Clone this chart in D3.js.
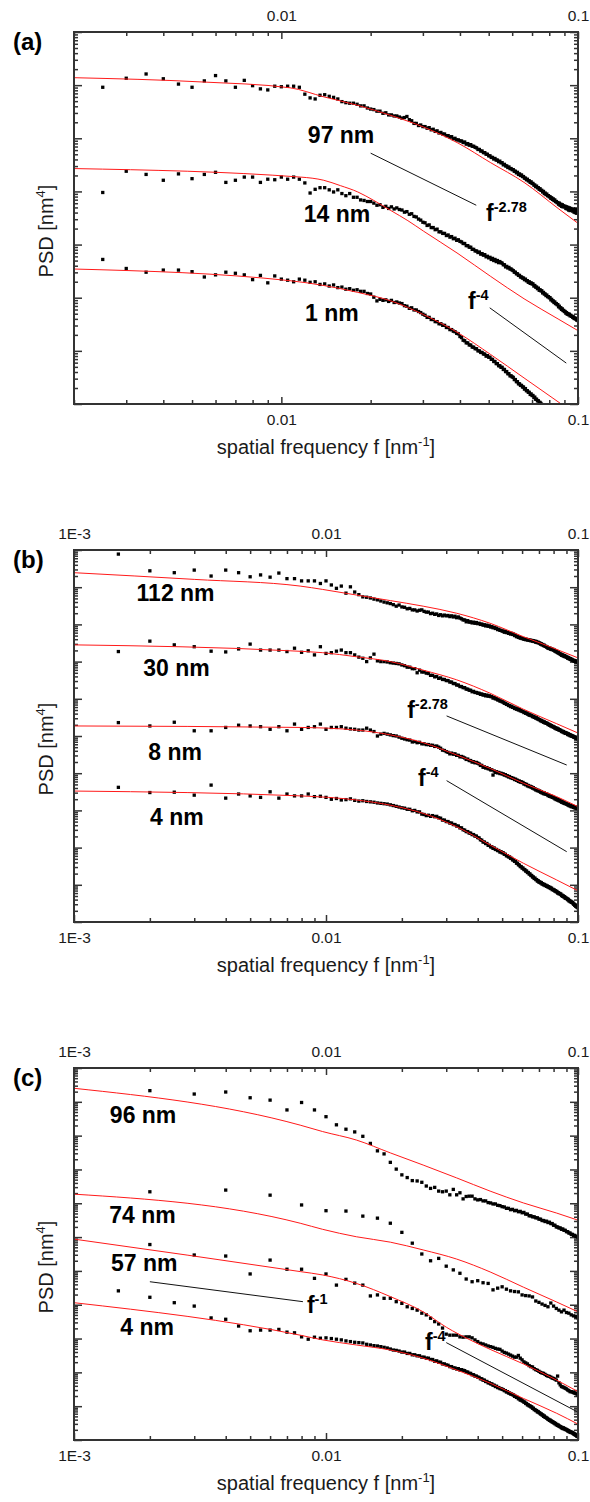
<!DOCTYPE html>
<html>
<head>
<meta charset="utf-8">
<script src="https://cdn.jsdelivr.net/npm/d3@7"></script>
<style>
  body { margin: 0; background: #fff; }
  text { font-family: "Liberation Sans", Arial, sans-serif; }
</style>
</head>
<body>
<div id="chart"></div>
<script>
// values are log10(PSD) (y axis carries no numbers)
// every series sits on a regular frequency grid: first f and step
const a97Start = 0.0025, a97Step = 0.0005
const a97 = [5.96,6.13,6.21,6.12,6.02,5.96,6.08,6.18,6.08,5.96,6.09,5.99,5.93,5.91,5.98,5.97,5.98,5.98,5.96,
  5.83,5.76,5.74,5.81,5.82,5.79,5.77,5.74,5.69,5.67,
  5.66,5.66,5.64,5.61,5.61,5.57,5.55,
  5.54,5.51,5.51,5.47,5.48,5.44,5.44,5.42,5.42,5.40,
  5.38,5.39,5.41,5.35,5.33,5.28,5.28,5.24,5.25,5.22,
  5.22,5.19,5.20,5.16,5.17,5.13,5.14,5.10,5.11,5.08,
  5.08,5.05,5.05,5.02,5.03,4.99,5.00,4.97,4.97,4.95,
  4.95,4.92,4.93,4.89,4.90,4.87,4.88,4.85,4.85,4.83,
  4.82,4.79,4.79,4.76,4.76,4.73,4.73,4.70,4.70,4.67,
  4.67,4.64,4.64,4.61,4.62,4.59,4.59,4.56,4.57,4.54,
  4.54,4.50,4.51,4.48,4.48,4.45,4.46,4.43,4.43,4.41,
  4.41,4.38,4.38,4.35,4.36,4.32,4.33,4.30,4.31,4.28,
  4.28,4.25,4.25,4.22,4.23,4.20,4.20,4.17,4.18,4.15,
  4.15,4.12,4.12,4.09,4.10,4.07,4.07,4.04,4.05,4.02,
  4.02,3.99,4.00,3.96,3.97,3.94,3.95,3.92,3.92,3.90,
  3.90,3.87,3.88,3.85,3.86,3.83,3.84,3.81,3.81,3.79,
  3.79,3.76,3.78,3.74,3.76,3.72,3.75,3.71,3.73,3.71,
  3.72,3.68,3.71,3.67,3.70,3.65,3.69,3.64,3.68,3.66,
  3.66,3.63,3.67,3.61,3.65,3.60,3.66,3.59,3.63,3.60]

const a14Start = 0.0025, a14Step = 0.0005
const a14 = [3.98,4.38,4.32,4.21,4.33,4.24,4.32,4.36,4.17,4.21,4.27,4.27,4.17,4.23,4.22,4.27,4.23,4.27,4.23,
  4.16,3.97,4.04,4.07,4.07,4.03,3.99,4.03,3.96,3.92,
  3.96,3.89,3.89,3.84,3.83,3.81,3.81,
  3.78,3.74,3.75,3.70,3.72,3.68,3.71,3.67,3.69,3.66,
  3.65,3.61,3.62,3.57,3.58,3.53,3.52,3.48,3.46,3.42,
  3.41,3.36,3.37,3.32,3.32,3.28,3.29,3.24,3.24,3.21,
  3.21,3.17,3.18,3.14,3.15,3.11,3.12,3.08,3.09,3.06,
  3.05,3.02,3.02,2.98,2.98,2.95,2.95,2.91,2.91,2.88,
  2.88,2.85,2.86,2.82,2.83,2.80,2.81,2.77,2.78,2.75,
  2.76,2.72,2.74,2.70,2.72,2.68,2.70,2.66,2.68,2.66,
  2.65,2.62,2.62,2.58,2.59,2.56,2.57,2.54,2.54,2.52,
  2.51,2.48,2.48,2.45,2.45,2.42,2.42,2.39,2.39,2.37,
  2.37,2.34,2.35,2.32,2.32,2.29,2.30,2.27,2.28,2.26,
  2.26,2.22,2.23,2.20,2.20,2.17,2.18,2.14,2.15,2.13,
  2.13,2.09,2.10,2.07,2.07,2.04,2.05,2.02,2.02,2.00,
  2.00,1.96,1.97,1.94,1.94,1.91,1.92,1.89,1.89,1.87,
  1.87,1.83,1.84,1.81,1.81,1.78,1.79,1.76,1.76,1.74,
  1.74,1.71,1.72,1.69,1.70,1.68,1.69,1.66,1.67,1.65,
  1.65,1.63,1.64,1.61,1.62,1.60,1.61,1.58,1.59,1.57]

const a1Start = 0.0025, a1Step = 0.0005
const a1 = [2.72,2.55,2.48,2.52,2.52,2.49,2.39,2.43,2.48,2.46,2.43,2.34,2.42,2.28,2.41,2.35,2.33,2.30,2.35,
  2.33,2.29,2.30,2.25,2.26,2.22,2.24,2.19,2.20,2.16,
  2.17,2.14,2.15,2.12,2.12,2.08,2.07,
  2.01,1.94,1.97,1.95,1.96,1.93,1.95,1.91,1.92,1.90,
  1.89,1.85,1.84,1.80,1.81,1.77,1.77,1.74,1.72,1.69,
  1.67,1.63,1.63,1.59,1.59,1.55,1.55,1.51,1.51,1.48,
  1.48,1.44,1.44,1.40,1.40,1.37,1.36,1.33,1.32,1.27,
  1.25,1.20,1.19,1.15,1.15,1.11,1.11,1.07,1.07,1.04,
  1.04,1.00,1.00,0.97,0.97,0.94,0.94,0.90,0.91,0.88,
  0.88,0.84,0.84,0.80,0.80,0.76,0.76,0.72,0.72,0.69,
  0.69,0.65,0.65,0.61,0.61,0.57,0.57,0.53,0.53,0.51,
  0.50,0.46,0.46,0.42,0.42,0.38,0.38,0.35,0.35,0.32,
  0.32,0.28,0.29,0.25,0.25,0.22,0.22,0.18,0.19,0.16,
  0.16,0.12,0.13,0.09,0.09,0.06,0.06,0.03,0.03,0.01,-0.01]

const b112Start = 0.0015, b112Step = 0.0005
const b112 = [9.89,9.44,9.39,9.46,9.30,9.46,9.39,9.28,9.33,9.27,9.38,9.23,9.23,
  9.17,9.17,9.17,9.10,9.17,9.06,8.97,9.03,8.84,9.01,8.87,8.80,8.74,8.73,8.71,8.68,8.66,8.63,8.60,8.58,8.56,8.53,8.49,8.52,8.47,
  8.46,8.42,8.43,8.39,8.39,8.36,8.38,8.39,8.35,8.33,
  8.33,8.29,8.30,8.27,8.28,8.24,8.26,8.23,8.25,8.23,
  8.24,8.21,8.23,8.20,8.22,8.18,8.20,8.17,8.15,8.12,
  8.12,8.07,8.10,8.06,8.07,8.04,8.06,8.03,8.05,8.02,
  8.03,8.00,8.01,7.98,7.99,7.96,7.98,7.95,7.96,7.93,
  7.94,7.91,7.92,7.89,7.90,7.86,7.87,7.84,7.84,7.82,
  7.82,7.79,7.81,7.78,7.79,7.76,7.77,7.74,7.76,7.73,
  7.74,7.70,7.71,7.67,7.68,7.65,7.66,7.63,7.64,7.62,
  7.62,7.60,7.61,7.59,7.60,7.58,7.59,7.57,7.58,7.56,
  7.57,7.55,7.56,7.54,7.55,7.52,7.54,7.51,7.52,7.50,
  7.50,7.47,7.48,7.45,7.46,7.43,7.44,7.41,7.41,7.39,
  7.39,7.36,7.37,7.35,7.36,7.33,7.34,7.32,7.33,7.31,
  7.31,7.28,7.29,7.26,7.27,7.24,7.25,7.22,7.22,7.20,
  7.20,7.17,7.19,7.16,7.17,7.14,7.16,7.13,7.14,7.12,
  7.12,7.09,7.11,7.08,7.09,7.06,7.08,7.05,7.06,7.04,
  7.04,7.02,7.03,7.01,7.02,7.00,7.01,6.99,7.00,6.99]

const b30Start = 0.0015, b30Step = 0.0005
const b30 = [7.27,7.55,7.45,7.40,7.28,7.26,7.34,7.47,7.31,7.31,7.31,7.27,7.36,
  7.25,7.29,7.18,7.40,7.22,7.24,7.28,7.31,7.24,7.24,7.18,7.12,7.09,7.00,7.10,7.20,7.02,7.00,7.00,6.99,6.97,6.96,6.95,6.94,6.91,
  6.89,6.85,6.85,6.81,6.81,6.70,6.77,6.72,6.72,6.69,
  6.68,6.63,6.63,6.59,6.60,6.55,6.56,6.52,6.52,6.49,
  6.49,6.45,6.45,6.41,6.41,6.37,6.37,6.33,6.33,6.30,
  6.30,6.26,6.26,6.23,6.23,6.19,6.20,6.17,6.17,6.15,
  6.15,6.12,6.13,6.10,6.11,6.08,6.10,6.07,6.08,6.06,
  6.06,6.02,6.03,6.00,6.00,5.97,5.97,5.94,5.94,5.92,
  5.91,5.88,5.88,5.85,5.85,5.82,5.82,5.79,5.80,5.77,
  5.77,5.74,5.75,5.72,5.73,5.70,5.71,5.68,5.68,5.66,
  5.66,5.63,5.64,5.61,5.62,5.59,5.59,5.56,5.57,5.55,
  5.55,5.52,5.53,5.50,5.51,5.48,5.49,5.46,5.46,5.44,
  5.44,5.41,5.42,5.39,5.40,5.37,5.38,5.35,5.36,5.34,
  5.34,5.31,5.32,5.29,5.30,5.27,5.28,5.25,5.26,5.24,
  5.24,5.21,5.22,5.19,5.21,5.18,5.19,5.16,5.17,5.15,
  5.15,5.12,5.13,5.11,5.12,5.09,5.10,5.07,5.09,5.07,
  5.07,5.04,5.06,5.03,5.04,5.01,5.03,5.00,5.01,4.99,
  5.00,4.97,4.98,4.96,4.97,4.94,4.95,4.93,4.94,4.92]

const b8Start = 0.0015, b8Step = 0.0005
const b8 = [5.36,5.27,5.37,5.14,5.14,5.23,5.29,5.27,5.25,5.18,5.25,5.14,5.32,
  5.18,5.23,5.25,5.32,5.18,5.23,5.23,5.25,5.21,5.19,5.18,5.16,5.16,5.21,5.16,5.12,5.00,5.05,5.07,5.05,5.03,5.01,5.00,4.97,4.94,
  4.92,4.90,4.89,4.84,4.85,4.82,4.83,4.79,4.79,4.77,
  4.77,4.75,4.75,4.72,4.73,4.70,4.67,4.62,4.61,4.58,
  4.56,4.52,4.54,4.51,4.52,4.48,4.48,4.44,4.45,4.43,
  4.41,4.37,4.38,4.34,4.34,4.30,4.31,4.28,4.29,4.27,
  4.25,4.21,4.21,4.16,4.17,4.14,4.15,4.12,4.12,4.09,
  4.09,3.95,4.06,4.02,4.04,4.01,4.02,3.99,4.00,3.98,
  3.98,3.95,3.96,3.93,3.93,3.90,3.91,3.88,3.88,3.86,
  3.86,3.83,3.84,3.81,3.81,3.78,3.79,3.76,3.77,3.75,
  3.75,3.71,3.72,3.69,3.70,3.66,3.67,3.64,3.65,3.63,
  3.63,3.60,3.61,3.58,3.58,3.55,3.56,3.53,3.54,3.52,
  3.52,3.49,3.50,3.47,3.48,3.45,3.47,3.44,3.45,3.43,
  3.43,3.40,3.41,3.38,3.39,3.37,3.38,3.35,3.36,3.34,
  3.34,3.31,3.32,3.29,3.31,3.28,3.29,3.26,3.27,3.25,
  3.25,3.22,3.24,3.21,3.22,3.19,3.20,3.18,3.19,3.17,
  3.17,3.15,3.16,3.13,3.14,3.12,3.13,3.10,3.12,3.10,
  3.11,3.08,3.10,3.07,3.09,3.06,3.08,3.05,3.07,3.05]

const b4Start = 0.0015, b4Step = 0.0005
const b4 = [3.62,3.48,3.49,3.41,3.68,3.33,3.44,3.39,3.35,3.50,3.33,3.44,3.39,
  3.39,3.44,3.37,3.38,3.35,3.30,3.32,3.28,3.29,3.31,3.27,3.25,3.26,3.24,3.23,3.22,3.20,3.19,3.18,3.17,3.15,3.13,3.11,3.09,3.07,
  3.06,3.03,3.03,2.99,3.00,2.96,2.96,2.90,2.89,2.86,
  2.87,2.84,2.86,2.83,2.84,2.80,2.79,2.74,2.74,2.70,
  2.70,2.66,2.66,2.62,2.62,2.58,2.58,2.53,2.53,2.48,
  2.47,2.43,2.43,2.39,2.39,2.35,2.35,2.31,2.31,2.27,
  2.26,2.21,2.20,2.15,2.15,2.11,2.11,2.06,2.06,2.02,
  2.02,1.98,1.99,1.95,1.95,1.92,1.92,1.88,1.89,1.86,
  1.86,1.82,1.82,1.78,1.78,1.75,1.75,1.71,1.71,1.67,
  1.67,1.63,1.63,1.58,1.58,1.54,1.53,1.49,1.49,1.45,
  1.45,1.41,1.41,1.37,1.37,1.33,1.33,1.29,1.29,1.25,
  1.25,1.21,1.21,1.17,1.18,1.14,1.14,1.10,1.11,1.07,
  1.08,1.05,1.06,1.02,1.03,1.00,1.01,0.98,0.99,0.96,
  0.97,0.94,0.95,0.92,0.93,0.90,0.91,0.87,0.88,0.86,
  0.86,0.83,0.84,0.81,0.82,0.78,0.79,0.76,0.77,0.75,
  0.75,0.71,0.72,0.69,0.70,0.67,0.68,0.64,0.65,0.63,
  0.63,0.60,0.61,0.57,0.58,0.55,0.56,0.53,0.54,0.52,
  0.51,0.48,0.48,0.45,0.46,0.42,0.43,0.40,0.41,0.38]

const c96Start = 0.002, c96Step = 0.001
const c96 = [10.33,10.23,10.29,10.12,10.05,9.76,9.98,9.76,9.56,9.32,9.19,9.11,8.98,8.77,8.55,8.46,8.21,8.01,7.84,
  7.76,7.67,7.66,7.62,7.51,7.44,7.47,7.36,7.34,7.36,7.25,7.41,7.25,7.31,7.13,7.20,7.21,7.21,7.13,7.10,
  7.11,7.07,7.07,7.02,7.01,6.98,6.98,6.94,6.93,6.90,
  6.89,6.85,6.85,6.81,6.82,6.78,6.79,6.75,6.76,6.72,
  6.73,6.68,6.68,6.63,6.63,6.60,6.60,6.57,6.57,6.53,
  6.53,6.49,6.49,6.46,6.47,6.43,6.44,6.40,6.40,6.35,
  6.35,6.30,6.30,6.27,6.27,6.23,6.24,6.20,6.20,6.16,
  6.16,6.12,6.12,6.08,6.08,6.05,6.05,6.02,6.02,5.99]

const c74Start = 0.002, c74Step = 0.002
const c74 = [7.34,7.39,7.24,6.95,6.78,6.77,6.62,6.56,6.41,6.14,5.82,5.50,5.30,5.37,5.14,5.03,4.93,4.76,4.68,4.71,
  4.65,4.63,4.44,4.49,4.53,4.46,4.41,4.39,4.38,4.29,4.27,4.26,4.23,4.11,4.07,4.02,3.98,3.94,4.05,3.96,
  3.89,3.84,3.79,3.84,3.77,3.75,3.70,3.67,3.65,3.61]

const c57Start = 0.002, c57Step = 0.001
const c57 = [5.78,5.47,5.44,4.91,5.32,5.05,5.05,4.78,4.91,
  4.58,4.75,4.64,4.58,4.26,4.29,4.19,4.19,4.09,4.04,
  3.94,3.89,3.84,3.75,3.70,3.60,3.50,3.43,3.31,3.13,
  3.10,3.10,3.10,3.05,3.04,3.05,3.05,3.02,2.96,2.91,
  2.86,2.84,2.81,2.78,2.76,2.74,2.71,2.69,2.68,2.63,
  2.59,2.57,2.54,2.51,2.48,2.45,2.45,2.50,2.42,2.37,
  2.31,2.28,2.25,2.20,2.17,2.16,2.11,2.08,2.06,2.03,
  2.00,1.98,1.97,1.94,1.91,1.89,1.88,1.86,1.83,1.82,
  1.80,1.77,1.89,1.69,1.63,1.58,1.57,1.55,1.53,1.51,
  1.48,1.46,1.43,1.43,1.42,1.40,1.39,1.38,1.36,1.33]

const c4Start = 0.0015, c4Step = 0.0005
const c4 = [4.41,4.22,4.06,3.96,3.61,3.57,3.37,3.23,3.25,3.25,3.27,3.19,3.17,
  3.05,2.98,3.04,3.01,3.02,3.00,2.98,2.96,2.93,2.91,2.89,2.88,2.87,2.83,2.81,2.79,2.78,2.76,2.74,2.72,2.69,2.66,2.65,2.63,2.60,
  2.60,2.56,2.56,2.52,2.52,2.49,2.49,2.45,2.45,2.42,
  2.42,2.38,2.38,2.33,2.34,2.30,2.30,2.25,2.25,2.22,
  2.21,2.17,2.17,2.13,2.13,2.10,2.11,2.07,2.08,2.06,
  2.05,2.01,2.01,1.97,1.97,1.93,1.93,1.89,1.89,1.86,
  1.85,1.81,1.81,1.77,1.77,1.73,1.73,1.69,1.69,1.66,
  1.66,1.62,1.62,1.58,1.59,1.55,1.55,1.52,1.52,1.50,
  1.49,1.46,1.46,1.42,1.43,1.39,1.39,1.36,1.36,1.34,
  1.33,1.29,1.29,1.26,1.26,1.22,1.22,1.18,1.19,1.16,
  1.15,1.12,1.12,1.08,1.08,1.04,1.04,1.01,1.01,0.98,
  0.98,0.94,0.94,0.90,0.90,0.87,0.87,0.83,0.84,0.81,
  0.80,0.77,0.77,0.74,0.74,0.70,0.71,0.67,0.67,0.65,
  0.64,0.61,0.61,0.58,0.59,0.56,0.56,0.53,0.54,0.51,
  0.51,0.48,0.49,0.45,0.46,0.43,0.44,0.41,0.41,0.39,
  0.39,0.36,0.37,0.34,0.36,0.33,0.34,0.31,0.32,0.30,
  0.30,0.27,0.28,0.25,0.26,0.23,0.24,0.22,0.23,0.21,
  0.21,0.18,0.19,0.16,0.17,0.14,0.15,0.11,0.12,0.10]

// fitted model curves (red), [f, log10 PSD]
const fitA97 = [[0.002,6.14],[0.0054,6.06],[0.0107,5.95],[0.0139,5.78],[0.0181,5.62],[0.0234,5.43],[0.0302,5.21],[0.0394,4.91],[0.0508,4.54],[0.0658,4.17],[0.0857,3.68],[0.1,3.40]]
const fitA14 = [[0.002,4.43],[0.0116,4.27],[0.0139,4.21],[0.0158,4.11],[0.0181,3.99],[0.0205,3.83],[0.0234,3.64],[0.0267,3.45],[0.0302,3.25],[0.0394,2.83],[0.0508,2.40],[0.0658,1.98],[0.0857,1.60],[0.1,1.38]]
const fitA1 = [[0.002,2.54],[0.0107,2.32],[0.0181,2.10],[0.0234,1.94],[0.0302,1.68],[0.0394,1.34],[0.0508,0.93],[0.0658,0.49],[0.0878,0.0],[0.1,-0.22]]
const fitB112 = [[0.001,9.39],[0.003,9.21],[0.0079,9.03],[0.0097,8.94],[0.0132,8.79],[0.018,8.64],[0.0243,8.49],[0.033,8.30],[0.0448,8.03],[0.0607,7.67],[0.0774,7.40],[0.1,7.10]]
const fitB30 = [[0.001,7.45],[0.0072,7.29],[0.0097,7.24],[0.0132,7.13],[0.018,7.00],[0.0243,6.77],[0.033,6.51],[0.0448,6.15],[0.0607,5.72],[0.0823,5.33],[0.1,5.08]]
const fitB8 = [[0.001,5.27],[0.0079,5.23],[0.0132,5.16],[0.018,5.03],[0.0243,4.82],[0.033,4.49],[0.0448,4.13],[0.0607,3.73],[0.0823,3.37],[0.1,3.10]]
const fitB4 = [[0.001,3.52],[0.0079,3.39],[0.0132,3.28],[0.018,3.14],[0.0243,2.92],[0.033,2.56],[0.0448,2.07],[0.0607,1.58],[0.0823,1.13],[0.1,0.84]]
const fitC96 = [[0.001,10.40],[0.0079,9.31],[0.0097,9.12],[0.0132,8.87],[0.018,8.49],[0.0243,8.13],[0.033,7.75],[0.0448,7.36],[0.0607,7.01],[0.0823,6.71],[0.1,6.50]]
const fitC74 = [[0.001,7.27],[0.0079,6.41],[0.0097,6.23],[0.0132,6.01],[0.018,5.85],[0.0243,5.62],[0.033,5.35],[0.0448,4.97],[0.0607,4.52],[0.0823,4.08],[0.1,3.79]]
const fitC57 = [[0.001,5.94],[0.0079,4.98],[0.0097,4.88],[0.0132,4.63],[0.018,4.24],[0.0243,3.79],[0.0301,3.33],[0.0373,2.96],[0.0448,2.68],[0.0607,2.25],[0.0823,1.77],[0.1,1.43]]
const fitC4 = [[0.001,4.06],[0.0079,3.10],[0.0097,2.96],[0.0132,2.81],[0.018,2.66],[0.0243,2.42],[0.033,2.07],[0.0448,1.68],[0.0607,1.23],[0.0823,0.79],[0.1,0.47]]

// power-law guide segments [f1, v1, f2, v2] and their exponent labels
const guidesA = [[0.02,4.72,0.0454,3.74],[0.0504,1.81,0.0913,0.77]]
const slopeLabelsA = [["-2.78",0.049,3.45],["-4",0.0426,1.79]]
const guidesB = [[0.0301,5.54,0.0902,4.22],[0.0301,3.80,0.0902,1.89]]
const slopeLabelsB = [["-2.78",0.021,5.48],["-4",0.0232,3.66]]
const guidesC = [[0.002,4.68,0.0081,4.09],[0.03,2.88,0.099,0.84]]
const slopeLabelsC = [["-1",0.0084,3.76],["-4",0.0247,2.66]]

// thickness labels
const labelsA = [["97 nm",0.0159,4.91],["14 nm",0.0154,3.42],["1 nm",0.0148,1.57]]
const labelsB = [["112 nm",0.00253,8.63],["30 nm",0.00255,6.61],["8 nm",0.00252,4.35],["4 nm",0.00256,2.61]]
const labelsC = [["96 nm",0.00188,9.37],["74 nm",0.00187,6.42],["57 nm",0.0019,5.00],["4 nm",0.00195,3.10]]

const LEFT = 74, RIGHT = 578, PLOT_H = 372
const DOT = 3.3

const panels = [
  { id: "a", top: 32, decades: 7, fMin: 0.002,
    series: [[a97Start, a97Step, a97], [a14Start, a14Step, a14], [a1Start, a1Step, a1]],
    fits: [fitA97, fitA14, fitA1], guides: guidesA, slopes: slopeLabelsA, labels: labelsA },
  { id: "b", top: 550, decades: 10, fMin: 0.001,
    series: [[b112Start, b112Step, b112], [b30Start, b30Step, b30], [b8Start, b8Step, b8], [b4Start, b4Step, b4]],
    fits: [fitB112, fitB30, fitB8, fitB4], guides: guidesB, slopes: slopeLabelsB, labels: labelsB },
  { id: "c", top: 1068, decades: 11, fMin: 0.001,
    series: [[c96Start, c96Step, c96], [c74Start, c74Step, c74], [c57Start, c57Step, c57], [c4Start, c4Step, c4]],
    fits: [fitC96, fitC74, fitC57, fitC4], guides: guidesC, slopes: slopeLabelsC, labels: labelsC }
]

const svg = d3.select("#chart").append("svg")
    .attr("width", 590)
    .attr("height", 1502)
const defs = svg.append("defs")

const pow10 = d => Math.pow(10, d)
const fmtX = d => d < 0.005 ? "1E-3" : String(d)

function logTicks(lo, hi) {
    const major = [], minor = []
    const e0 = Math.floor(Math.log10(lo) + 1e-9)
    const e1 = Math.ceil(Math.log10(hi) - 1e-9)
    for (let e = e0; e <= e1; e++) {
        for (let m = 1; m <= 9; m++) {
            const v = +(m * Math.pow(10, e)).toPrecision(6)
            if (v < lo * 0.9999 || v > hi * 1.0001) continue
            if (m === 1) major.push(v)
            else minor.push(v)
        }
    }
    return { major, minor }
}

function drawAxis(axis, transform, size, values, fmt, pad) {
    const g = svg.append("g")
        .attr("transform", transform)
        .call(axis.tickValues(values).tickSizeInner(-size).tickSizeOuter(0).tickPadding(pad).tickFormat(fmt))
    g.select(".domain").remove()
    g.attr("font-family", null).attr("font-size", null)
    g.selectAll("line").attr("stroke", "#333").attr("stroke-width", 1.5)
    g.selectAll("text").attr("font-size", 15.5).attr("fill", "#1a1a1a")
}

panels.forEach((p, i) => {
    const top = p.top
    const bottom = top + PLOT_H
    const x = d3.scaleLog().domain([p.fMin, 0.1]).range([LEFT, RIGHT])
    const y = d3.scaleLog().domain([1, pow10(p.decades)]).range([bottom, top])

    // ticks, all pointing inwards
    const xt = logTicks(p.fMin, 0.1)
    const yt = logTicks(1, pow10(p.decades))
    drawAxis(d3.axisBottom(x), `translate(0,${bottom})`, 4, xt.minor, () => "", 0)
    drawAxis(d3.axisBottom(x), `translate(0,${bottom})`, 7, xt.major, fmtX, 10)
    drawAxis(d3.axisTop(x), `translate(0,${top})`, 4, xt.minor, () => "", 0)
    drawAxis(d3.axisTop(x), `translate(0,${top})`, 7, xt.major, fmtX, 11)
    drawAxis(d3.axisLeft(y), `translate(${LEFT},0)`, 4, yt.minor, () => "", 0)
    drawAxis(d3.axisLeft(y), `translate(${LEFT},0)`, 8, yt.major, () => "", 0)
    drawAxis(d3.axisRight(y), `translate(${RIGHT},0)`, 4, yt.minor, () => "", 0)
    drawAxis(d3.axisRight(y), `translate(${RIGHT},0)`, 8, yt.major, () => "", 0)

    const clipId = "clip-" + p.id
    defs.append("clipPath").attr("id", clipId)
      .append("rect")
        .attr("x", LEFT).attr("y", top)
        .attr("width", RIGHT - LEFT).attr("height", PLOT_H)

    const plot = svg.append("g").attr("clip-path", `url(#${clipId})`)

    // measured points
    p.series.forEach(([start, step, vals]) => {
        const pts = vals.map((v, k) => [+(start + k * step).toFixed(5), pow10(v)])
        plot.append("g").selectAll("rect")
            .data(pts)
            .join("rect")
                .attr("x", d => x(d[0]) - DOT / 2)
                .attr("y", d => y(d[1]) - DOT / 2)
                .attr("width", DOT)
                .attr("height", DOT)
                .attr("fill", "#000")
    })

    // fits
    const line = d3.line()
        .x(d => x(d[0]))
        .y(d => y(pow10(d[1])))
        .curve(d3.curveMonotoneX)
    p.fits.forEach(fit => {
        plot.append("path")
            .attr("d", line(fit))
            .attr("fill", "none")
            .attr("stroke", "#ff1a1a")
            .attr("stroke-width", 1)
    })

    // guide lines
    p.guides.forEach(([f1, v1, f2, v2]) => {
        svg.append("line")
            .attr("x1", x(f1)).attr("y1", y(pow10(v1)))
            .attr("x2", x(f2)).attr("y2", y(pow10(v2)))
            .attr("stroke", "#111")
            .attr("stroke-width", 1)
    })

    p.slopes.forEach(([sup, f, v]) => {
        const t = svg.append("text")
            .attr("x", x(f))
            .attr("y", y(pow10(v)))
            .attr("font-size", 23)
            .attr("font-weight", "bold")
        t.append("tspan").text("f")
        t.append("tspan").attr("font-size", 14.5).attr("dy", -9).text(sup)
    })

    p.labels.forEach(([txt, f, v]) => {
        svg.append("text")
            .attr("x", x(f))
            .attr("y", y(pow10(v)))
            .attr("text-anchor", "middle")
            .attr("font-size", 23)
            .attr("font-weight", "bold")
            .text(txt)
    })

    // frame
    svg.append("rect")
        .attr("x", LEFT).attr("y", top)
        .attr("width", RIGHT - LEFT).attr("height", PLOT_H)
        .attr("fill", "none")
        .attr("stroke", "#333")
        .attr("stroke-width", 2)

    // panel letter
    svg.append("text")
        .attr("x", 13)
        .attr("y", top + 18)
        .attr("font-size", 24)
        .attr("font-weight", "bold")
        .text(`(${p.id})`)

    // x title
    const xt2 = svg.append("text")
        .attr("x", (LEFT + RIGHT) / 2)
        .attr("y", bottom + 50)
        .attr("text-anchor", "middle")
        .attr("font-size", 20)
        .attr("fill", "#1a1a1a")
    xt2.append("tspan").text("spatial frequency f [nm")
    xt2.append("tspan").attr("font-size", 13).attr("dy", -8).text("-1")
    xt2.append("tspan").attr("dy", 8).text("]")

    // y title
    const yt2 = svg.append("text")
        .attr("transform", `translate(53,${top + 199}) rotate(-90)`)
        .attr("text-anchor", "middle")
        .attr("font-size", 20)
        .attr("fill", "#1a1a1a")
    yt2.append("tspan").text("PSD [nm")
    yt2.append("tspan").attr("font-size", 13).attr("dy", -8).text("4")
    yt2.append("tspan").attr("dy", 8).text("]")
})
</script>
</body>
</html>
